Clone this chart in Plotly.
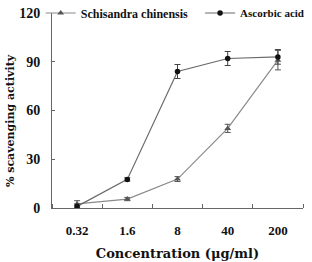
import plotly.graph_objects as go

categories = ["0.32", "1.6", "8", "40", "200"]
schisandra = [2.5, 5.5, 17.8, 49, 91]
schisandra_err = [2, 1, 1.5, 2.5, 6]
ascorbic = [1, 17.6, 84, 92, 93]
ascorbic_err = [1.5, 1, 4.3, 4.3, 4.5]
y_ticks = [0, 30, 60, 90, 120]

xs = list(range(len(categories)))
font = "Liberation Serif"
font2 = "DejaVu Serif"

fig = go.Figure()
fig.add_trace(go.Scatter(
    x=xs, y=schisandra, name="Schisandra chinensis", mode="lines+markers",
    line=dict(color="#8a8a8a", width=1.2),
    marker=dict(symbol="triangle-up", size=6, color="#555555"),
    error_y=dict(type="data", array=schisandra_err, color="#555555", thickness=1, width=3),
    legend="legend",
))
fig.add_trace(go.Scatter(
    x=xs, y=ascorbic, name="Ascorbic acid", mode="lines+markers",
    line=dict(color="#6a6a6a", width=1.2),
    marker=dict(symbol="circle", size=5.5, color="#111111"),
    error_y=dict(type="data", array=ascorbic_err, color="#444444", thickness=1, width=3),
    legend="legend2",
))

leg_common = dict(
    orientation="h", yanchor="middle", xanchor="left", itemwidth=30,
    bgcolor="rgba(0,0,0,0)",
)

fig.update_layout(
    width=312, height=262,
    margin=dict(l=52, r=9, t=13, b=54, autoexpand=False),
    paper_bgcolor="white", plot_bgcolor="white",
    font=dict(family=font, size=11, color="#111111"),
    showlegend=True,
    legend=dict(x=-0.045, y=1.0,
                font=dict(family=font, size=12, color="#111111", weight="bold"),
                **leg_common),
    legend2=dict(x=0.59, y=1.0,
                 font=dict(family=font, size=11, color="#111111", weight="bold"),
                 **leg_common),
    xaxis=dict(
        range=[-0.5, 4.5], tickmode="array", tickvals=xs, ticktext=categories,
        ticks="", showgrid=False, zeroline=False, automargin=False,
        showline=True, linecolor="#666666", linewidth=1,
        tickfont=dict(family=font, size=13, weight="bold"),
        ticklabelstandoff=10,
        minor=dict(tickmode="linear", tick0=-0.5, dtick=1, ticks="inside",
                   ticklen=4, tickcolor="#666666", showgrid=False),
        title=dict(text="Concentration (μg/ml)", standoff=12,
                   font=dict(family=font2, size=13, weight="bold")),
    ),
    yaxis=dict(
        range=[0, 120], tickmode="array", tickvals=y_ticks,
        ticks="inside", ticklen=3, tickcolor="#666666", automargin=False,
        showgrid=False, zeroline=False,
        showline=True, linecolor="#666666", linewidth=1,
        tickfont=dict(family=font, size=14, weight="bold"),
        ticklabelstandoff=8,
    ),
    annotations=[dict(
        text="% scavenging activity", textangle=-90, showarrow=False,
        xref="paper", yref="paper", x=-0.168, y=0.45,
        xanchor="center", yanchor="middle",
        font=dict(family=font2, size=11, weight="bold", color="#111111"),
    )],
)

fig.write_html("out.html")
